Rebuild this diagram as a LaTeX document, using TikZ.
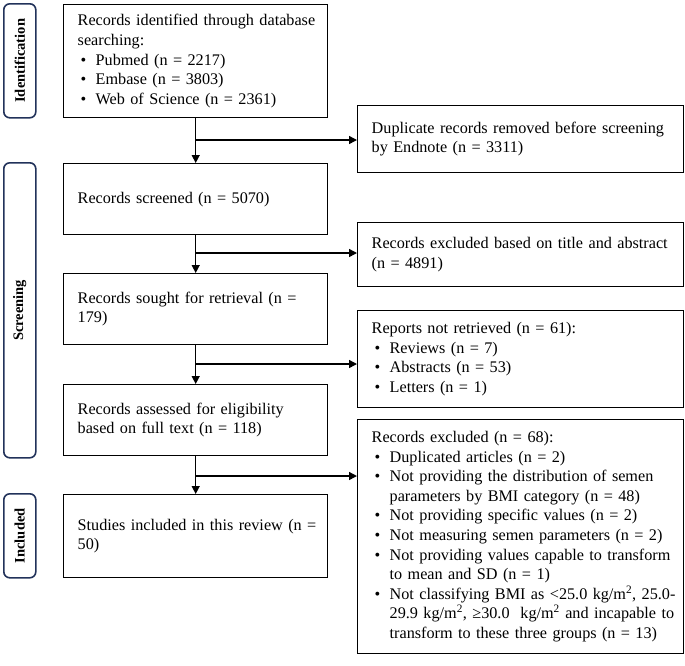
\documentclass[tikz,border=0pt]{standalone}
\usepackage{fontspec}
\setmainfont{Liberation Serif}
\usetikzlibrary{arrows.meta}
\definecolor{navy}{HTML}{22325A}
\newcommand{\bt}[1]{\leftskip=14pt\relax #1\par}
\newcommand{\bitem}[1]{\par\hangindent=18pt\hangafter=1\noindent\makebox[18pt][l]{\hspace{3pt}\textbullet}#1}
\begin{document}
\begin{tikzpicture}[x=1pt,y=-1pt,
  box/.style 2 args={draw=black,line width=1.4pt,inner sep=0pt,anchor=north west,
    text width=#1,minimum width=#1,minimum height=#2,align=left,
    font=\fontsize{16.2}{19.6}\selectfont},
  phase/.style 2 args={draw=navy,line width=1.6pt,rounded corners=6pt,anchor=north west,
    minimum width=#1,minimum height=#2,inner sep=0pt},
  phasetext/.style={rotate=90,font=\fontsize{14.5}{16}\selectfont\bfseries},
  arr/.style={line width=1.4pt,-{Triangle[length=8pt,width=8pt]}}]
\useasboundingbox (0,0) rectangle (685,665);

% phase labels
\node[phase={32pt}{114pt}] (pid) at (3,3) {};
\node[phasetext] (tid) at (pid.center) {Identification};
\node[phase={32pt}{295pt}] (psc) at (3,162) {};
\node[phasetext] (tsc) at (psc.center) {Screening};
\node[phase={32pt}{84pt}] (pin) at (3,493) {};
\node[phasetext] (tin) at (pin.center) {Included};

% left column
\node[box={264pt}{113pt}] (id) at (63,4) {\bt{Records identified through database\newline searching:%
  \bitem{Pubmed (n = 2217)}\bitem{Embase (n = 3803)}\bitem{Web of Science (n = 2361)}}};
\node[box={264pt}{71pt}] (scr) at (63,163) {\bt{Records screened (n = 5070)}};
\node[box={264pt}{71pt}] (sou) at (63,273) {\bt{Records sought for retrieval (n =\newline 179)}};
\node[box={264pt}{71pt}] (ass) at (63,384) {\bt{Records assessed for eligibility\newline based on full text (n = 118)}};
\node[box={264pt}{83pt}] (inc) at (63,494) {\bt{Studies included in this review (n =\newline 50)}};

% right column
\node[box={326pt}{67pt}] (dup) at (357,105) {\bt{Duplicate records removed before screening\newline by Endnote (n = 3311)}};
\node[box={326pt}{64pt}] (exc) at (357,222) {\bt{Records excluded based on title and abstract\newline (n = 4891)}};
\node[box={326pt}{97pt}] (nre) at (357,310) {\bt{Reports not retrieved (n = 61):%
  \bitem{Reviews (n = 7)}\bitem{Abstracts (n = 53)}\bitem{Letters (n = 1)}}};
\node[box={326pt}{234pt}] (rex) at (357,419) {\bt{Records excluded (n = 68):%
  \bitem{Duplicated articles (n = 2)}%
  \bitem{Not providing the distribution of semen\newline parameters by BMI category (n = 48)}%
  \bitem{Not providing specific values (n = 2)}%
  \bitem{Not measuring semen parameters (n = 2)}%
  \bitem{Not providing values capable to transform\newline to mean and SD (n = 1)}%
  \bitem{Not classifying BMI as <25.0 kg/m\textsuperscript{2}, 25.0-\newline 29.9 kg/m\textsuperscript{2}, ≥30.0~ kg/m\textsuperscript{2} and incapable to\newline transform to these three groups (n = 13)}}};

% vertical arrows
\draw[arr] (id.south) -- (scr.north);
\draw[arr] (scr.south) -- (sou.north);
\draw[arr] (sou.south) -- (ass.north);
\draw[arr] (ass.south) -- (inc.north);

% branch arrows
\coordinate (b1) at (195,140);
\coordinate (b2) at (195,253);
\coordinate (b3) at (195,364);
\coordinate (b4) at (195,476);
\draw[arr] (b1) -- (dup.west |- b1);
\draw[arr] (b2) -- (exc.west |- b2);
\draw[arr] (b3) -- (nre.west |- b3);
\draw[arr] (b4) -- (rex.west |- b4);
\end{tikzpicture}
\end{document}
